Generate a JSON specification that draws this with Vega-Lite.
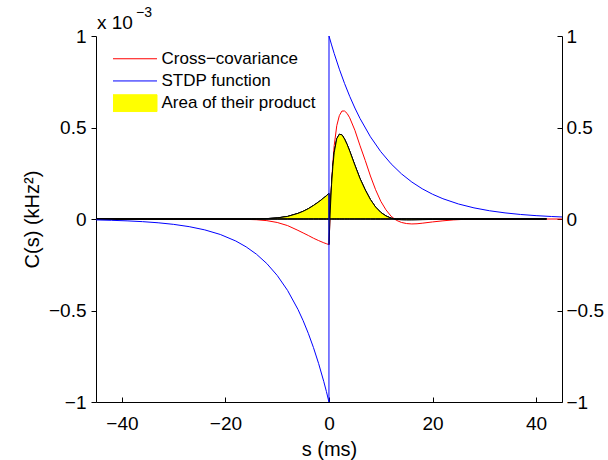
{
  "$schema": "https://vega.github.io/schema/vega-lite/v6.json",
  "width": 466,
  "height": 366,
  "autosize": {"type": "none"},
  "padding": {"left": 96, "top": 36, "right": 46, "bottom": 58},
  "background": "white",
  "config": {
    "view": {"stroke": null},
    "font": "Liberation Sans",
    "axis": {
      "labelFont": "Liberation Sans",
      "titleFont": "Liberation Sans",
      "labelColor": "black",
      "titleColor": "black",
      "domainColor": "black",
      "tickColor": "black",
      "domainWidth": 1,
      "tickWidth": 1,
      "grid": false,
      "titleFontWeight": "normal"
    }
  },
  "datasets": {
    "red": [
      {"s": -45, "v": 0, "series": "Cross−covariance"},
      {"s": -40, "v": 0, "series": "Cross−covariance"},
      {"s": -35, "v": 0, "series": "Cross−covariance"},
      {"s": -30, "v": 0, "series": "Cross−covariance"},
      {"s": -25, "v": 0, "series": "Cross−covariance"},
      {"s": -20, "v": -0.001, "series": "Cross−covariance"},
      {"s": -16, "v": -0.002, "series": "Cross−covariance"},
      {"s": -14, "v": -0.004, "series": "Cross−covariance"},
      {"s": -12, "v": -0.009, "series": "Cross−covariance"},
      {"s": -10, "v": -0.019, "series": "Cross−covariance"},
      {"s": -8, "v": -0.036, "series": "Cross−covariance"},
      {"s": -6, "v": -0.062, "series": "Cross−covariance"},
      {"s": -5, "v": -0.076, "series": "Cross−covariance"},
      {"s": -4, "v": -0.09, "series": "Cross−covariance"},
      {"s": -3, "v": -0.105, "series": "Cross−covariance"},
      {"s": -2, "v": -0.118, "series": "Cross−covariance"},
      {"s": -1, "v": -0.13, "series": "Cross−covariance"},
      {"s": -0.5, "v": -0.135, "series": "Cross−covariance"},
      {"s": -0.01, "v": -0.14, "series": "Cross−covariance"},
      {"s": 0, "v": -0.14, "series": "Cross−covariance"},
      {"s": 0.25, "v": 0.05, "series": "Cross−covariance"},
      {"s": 0.5, "v": 0.2, "series": "Cross−covariance"},
      {"s": 0.75, "v": 0.31, "series": "Cross−covariance"},
      {"s": 1, "v": 0.4, "series": "Cross−covariance"},
      {"s": 1.5, "v": 0.51, "series": "Cross−covariance"},
      {"s": 2, "v": 0.565, "series": "Cross−covariance"},
      {"s": 2.5, "v": 0.59, "series": "Cross−covariance"},
      {"s": 3, "v": 0.59, "series": "Cross−covariance"},
      {"s": 3.5, "v": 0.577, "series": "Cross−covariance"},
      {"s": 4, "v": 0.553, "series": "Cross−covariance"},
      {"s": 5, "v": 0.485, "series": "Cross−covariance"},
      {"s": 6, "v": 0.4, "series": "Cross−covariance"},
      {"s": 7, "v": 0.32, "series": "Cross−covariance"},
      {"s": 8, "v": 0.235, "series": "Cross−covariance"},
      {"s": 9, "v": 0.16, "series": "Cross−covariance"},
      {"s": 10, "v": 0.097, "series": "Cross−covariance"},
      {"s": 11, "v": 0.05, "series": "Cross−covariance"},
      {"s": 12, "v": 0.015, "series": "Cross−covariance"},
      {"s": 13, "v": -0.007, "series": "Cross−covariance"},
      {"s": 14, "v": -0.019, "series": "Cross−covariance"},
      {"s": 15, "v": -0.025, "series": "Cross−covariance"},
      {"s": 16, "v": -0.027, "series": "Cross−covariance"},
      {"s": 17, "v": -0.026, "series": "Cross−covariance"},
      {"s": 18, "v": -0.023, "series": "Cross−covariance"},
      {"s": 20, "v": -0.016, "series": "Cross−covariance"},
      {"s": 22, "v": -0.01, "series": "Cross−covariance"},
      {"s": 24, "v": -0.005, "series": "Cross−covariance"},
      {"s": 26, "v": -0.002, "series": "Cross−covariance"},
      {"s": 28, "v": -0.0005, "series": "Cross−covariance"},
      {"s": 30, "v": 0, "series": "Cross−covariance"},
      {"s": 35, "v": 0, "series": "Cross−covariance"},
      {"s": 40, "v": 0, "series": "Cross−covariance"},
      {"s": 45, "v": 0, "series": "Cross−covariance"}
    ],
    "blue": [
      {"s": -45, "v": -0.005, "series": "STDP function"},
      {"s": -42, "v": -0.0071, "series": "STDP function"},
      {"s": -39, "v": -0.0102, "series": "STDP function"},
      {"s": -36, "v": -0.0145, "series": "STDP function"},
      {"s": -33, "v": -0.0206, "series": "STDP function"},
      {"s": -30, "v": -0.0293, "series": "STDP function"},
      {"s": -27, "v": -0.0418, "series": "STDP function"},
      {"s": -24, "v": -0.0594, "series": "STDP function"},
      {"s": -21, "v": -0.0845, "series": "STDP function"},
      {"s": -18, "v": -0.1203, "series": "STDP function"},
      {"s": -16, "v": -0.1523, "series": "STDP function"},
      {"s": -14, "v": -0.1926, "series": "STDP function"},
      {"s": -12, "v": -0.2437, "series": "STDP function"},
      {"s": -10, "v": -0.3085, "series": "STDP function"},
      {"s": -8, "v": -0.3902, "series": "STDP function"},
      {"s": -6, "v": -0.4937, "series": "STDP function"},
      {"s": -5, "v": -0.5553, "series": "STDP function"},
      {"s": -4, "v": -0.6246, "series": "STDP function"},
      {"s": -3, "v": -0.7026, "series": "STDP function"},
      {"s": -2, "v": -0.7903, "series": "STDP function"},
      {"s": -1, "v": -0.889, "series": "STDP function"},
      {"s": -0.5, "v": -0.9429, "series": "STDP function"},
      {"s": -0.01, "v": -1, "series": "STDP function"},
      {"s": 0, "v": 1, "series": "STDP function"},
      {"s": 0.5, "v": 0.9512, "series": "STDP function"},
      {"s": 1, "v": 0.9048, "series": "STDP function"},
      {"s": 2, "v": 0.8187, "series": "STDP function"},
      {"s": 3, "v": 0.7408, "series": "STDP function"},
      {"s": 4, "v": 0.6703, "series": "STDP function"},
      {"s": 5, "v": 0.6065, "series": "STDP function"},
      {"s": 6, "v": 0.5488, "series": "STDP function"},
      {"s": 8, "v": 0.4493, "series": "STDP function"},
      {"s": 10, "v": 0.3679, "series": "STDP function"},
      {"s": 12, "v": 0.3012, "series": "STDP function"},
      {"s": 14, "v": 0.2466, "series": "STDP function"},
      {"s": 16, "v": 0.2019, "series": "STDP function"},
      {"s": 18, "v": 0.1653, "series": "STDP function"},
      {"s": 20, "v": 0.1353, "series": "STDP function"},
      {"s": 22, "v": 0.1108, "series": "STDP function"},
      {"s": 25, "v": 0.0821, "series": "STDP function"},
      {"s": 28, "v": 0.0608, "series": "STDP function"},
      {"s": 31, "v": 0.045, "series": "STDP function"},
      {"s": 34, "v": 0.0334, "series": "STDP function"},
      {"s": 37, "v": 0.0247, "series": "STDP function"},
      {"s": 40, "v": 0.0183, "series": "STDP function"},
      {"s": 43, "v": 0.0136, "series": "STDP function"},
      {"s": 45, "v": 0.0111, "series": "STDP function"}
    ],
    "prod": [
      {"s": -45, "v": 0.0003, "seg": "A", "series": "Area of their product"},
      {"s": -40, "v": 0.0003, "seg": "A", "series": "Area of their product"},
      {"s": -35, "v": 0.0003, "seg": "A", "series": "Area of their product"},
      {"s": -30, "v": 0.0003, "seg": "A", "series": "Area of their product"},
      {"s": -15, "v": 0, "seg": "B", "series": "Area of their product"},
      {"s": -14, "v": 0.0008, "seg": "B", "series": "Area of their product"},
      {"s": -12, "v": 0.0022, "seg": "B", "series": "Area of their product"},
      {"s": -10, "v": 0.0059, "seg": "B", "series": "Area of their product"},
      {"s": -8, "v": 0.014, "seg": "B", "series": "Area of their product"},
      {"s": -6, "v": 0.0306, "seg": "B", "series": "Area of their product"},
      {"s": -5, "v": 0.042, "seg": "B", "series": "Area of their product"},
      {"s": -4, "v": 0.0562, "seg": "B", "series": "Area of their product"},
      {"s": -3, "v": 0.0738, "seg": "B", "series": "Area of their product"},
      {"s": -2, "v": 0.0933, "seg": "B", "series": "Area of their product"},
      {"s": -1, "v": 0.1156, "seg": "B", "series": "Area of their product"},
      {"s": -0.5, "v": 0.1273, "seg": "B", "series": "Area of their product"},
      {"s": -0.01, "v": 0.14, "seg": "B", "series": "Area of their product"},
      {"s": 0, "v": -0.14, "seg": "B", "series": "Area of their product"},
      {"s": 0.25, "v": 0.049, "seg": "B", "series": "Area of their product"},
      {"s": 0.5, "v": 0.19, "seg": "B", "series": "Area of their product"},
      {"s": 0.75, "v": 0.288, "seg": "B", "series": "Area of their product"},
      {"s": 1, "v": 0.362, "seg": "B", "series": "Area of their product"},
      {"s": 1.5, "v": 0.439, "seg": "B", "series": "Area of their product"},
      {"s": 2, "v": 0.463, "seg": "B", "series": "Area of their product"},
      {"s": 2.5, "v": 0.46, "seg": "B", "series": "Area of their product"},
      {"s": 3, "v": 0.437, "seg": "B", "series": "Area of their product"},
      {"s": 3.5, "v": 0.407, "seg": "B", "series": "Area of their product"},
      {"s": 4, "v": 0.371, "seg": "B", "series": "Area of their product"},
      {"s": 5, "v": 0.294, "seg": "B", "series": "Area of their product"},
      {"s": 6, "v": 0.22, "seg": "B", "series": "Area of their product"},
      {"s": 7, "v": 0.159, "seg": "B", "series": "Area of their product"},
      {"s": 8, "v": 0.106, "seg": "B", "series": "Area of their product"},
      {"s": 9, "v": 0.065, "seg": "B", "series": "Area of their product"},
      {"s": 10, "v": 0.036, "seg": "B", "series": "Area of their product"},
      {"s": 11, "v": 0.0167, "seg": "B", "series": "Area of their product"},
      {"s": 12, "v": 0.0045, "seg": "B", "series": "Area of their product"},
      {"s": 13, "v": -0.0019, "seg": "B", "series": "Area of their product"},
      {"s": 14, "v": -0.0047, "seg": "B", "series": "Area of their product"},
      {"s": 15, "v": -0.0056, "seg": "B", "series": "Area of their product"},
      {"s": 16, "v": -0.0055, "seg": "B", "series": "Area of their product"},
      {"s": 17, "v": -0.0048, "seg": "B", "series": "Area of their product"},
      {"s": 18, "v": -0.0038, "seg": "B", "series": "Area of their product"},
      {"s": 20, "v": -0.0022, "seg": "B", "series": "Area of their product"},
      {"s": 22, "v": -0.0011, "seg": "B", "series": "Area of their product"},
      {"s": 24, "v": -0.0005, "seg": "B", "series": "Area of their product"},
      {"s": 26, "v": 0, "seg": "B", "series": "Area of their product"},
      {"s": 27, "v": 0.0003, "seg": "C", "series": "Area of their product"},
      {"s": 32, "v": 0.0003, "seg": "C", "series": "Area of their product"},
      {"s": 37, "v": 0.0003, "seg": "C", "series": "Area of their product"},
      {"s": 42, "v": 0.0003, "seg": "C", "series": "Area of their product"}
    ],
    "note": [{"base": "x 10", "exp": "−3"}]
  },
  "layer": [
    {
      "data": {"name": "red"},
      "mark": {"type": "line", "strokeWidth": 1},
      "encoding": {
        "x": {
          "field": "s",
          "type": "quantitative",
          "scale": {"domain": [-45, 45], "nice": false, "zero": false},
          "axis": {
            "values": [-40, -20, 0, 20, 40],
            "format": "d",
            "title": "s (ms)",
            "titleFontSize": 20,
            "titlePadding": 6,
            "labelFontSize": 19,
            "tickSize": -5,
            "labelPadding": 17
          }
        },
        "y": {
          "field": "v",
          "type": "quantitative",
          "scale": {"domain": [-1, 1], "nice": false, "zero": false},
          "axis": {
            "orient": "left",
            "values": [-1, -0.5, 0, 0.5, 1],
            "format": "~g",
            "title": "C(s) (kHz²)",
            "titleFontSize": 20,
            "titlePadding": 6,
            "labelFontSize": 19,
            "tickSize": 5,
            "labelPadding": 5
          }
        },
        "color": {
          "field": "series",
          "type": "nominal",
          "scale": {
            "domain": ["Cross−covariance", "STDP function", "Area of their product"],
            "range": ["#ff0000", "#0000ff", "#ffff00"]
          },
          "legend": {
            "title": null,
            "orient": "none",
            "legendX": 17,
            "legendY": 13.5,
            "padding": 0,
            "rowPadding": 3.2,
            "clipHeight": 18.5,
            "labelFont": "Liberation Sans",
            "labelFontSize": 17,
            "labelColor": "black",
            "labelLimit": 300,
            "symbolSize": 256,
            "symbolStrokeWidth": 1,
            "symbolOffset": 13.5,
            "labelOffset": 18,
            "symbolType": "M-2.75,0H2.75",
            "encode": {
              "symbols": {
                "update": {
                  "shape": {"signal": "datum.value === 'Area of their product' ? 'M-2.75,-1.05H2.75V1.05H-2.75Z' : 'M-2.75,0H2.75'"},
                  "fill": {"signal": "datum.value === 'Area of their product' ? '#ffff00' : 'transparent'"},
                  "stroke": {"signal": "datum.value === 'Area of their product' ? '#000000' : (datum.value === 'STDP function' ? '#0000ff' : '#ff0000')"},
                  "strokeWidth": {"value": 1},
                  "opacity": {"value": 1}
                }
              }
            }
          }
        }
      }
    },
    {
      "data": {"name": "prod"},
      "mark": {"type": "area", "stroke": "black", "strokeWidth": 1, "opacity": 1},
      "encoding": {
        "x": {"field": "s", "type": "quantitative"},
        "y": {"field": "v", "type": "quantitative", "axis": null},
        "color": {"field": "series", "type": "nominal"},
        "detail": {"field": "seg"}
      }
    },
    {
      "data": {"name": "blue"},
      "mark": {"type": "line", "strokeWidth": 1},
      "encoding": {
        "x": {"field": "s", "type": "quantitative"},
        "y": {
          "field": "v",
          "type": "quantitative",
          "axis": {
            "orient": "right",
            "values": [-1, -0.5, 0, 0.5, 1],
            "format": "~g",
            "title": null,
            "labelFontSize": 19,
            "tickSize": -5,
            "labelPadding": 9
          }
        },
        "color": {"field": "series", "type": "nominal"}
      }
    },
    {
      "data": {"name": "note"},
      "mark": {"type": "text", "align": "left", "baseline": "alphabetic", "fontSize": 19, "dx": 1, "dy": -7, "font": "Liberation Sans", "color": "black"},
      "encoding": {
        "x": {"datum": -45, "type": "quantitative"},
        "y": {"datum": 1, "type": "quantitative", "axis": null},
        "text": {"field": "base"}
      }
    },
    {
      "data": {"name": "note"},
      "mark": {"type": "text", "align": "left", "baseline": "alphabetic", "fontSize": 14, "dx": 40, "dy": -19.5, "font": "Liberation Sans", "color": "black"},
      "encoding": {
        "x": {"datum": -45, "type": "quantitative"},
        "y": {"datum": 1, "type": "quantitative", "axis": null},
        "text": {"field": "exp"}
      }
    }
  ],
  "resolve": {"axis": {"y": "independent"}}
}
